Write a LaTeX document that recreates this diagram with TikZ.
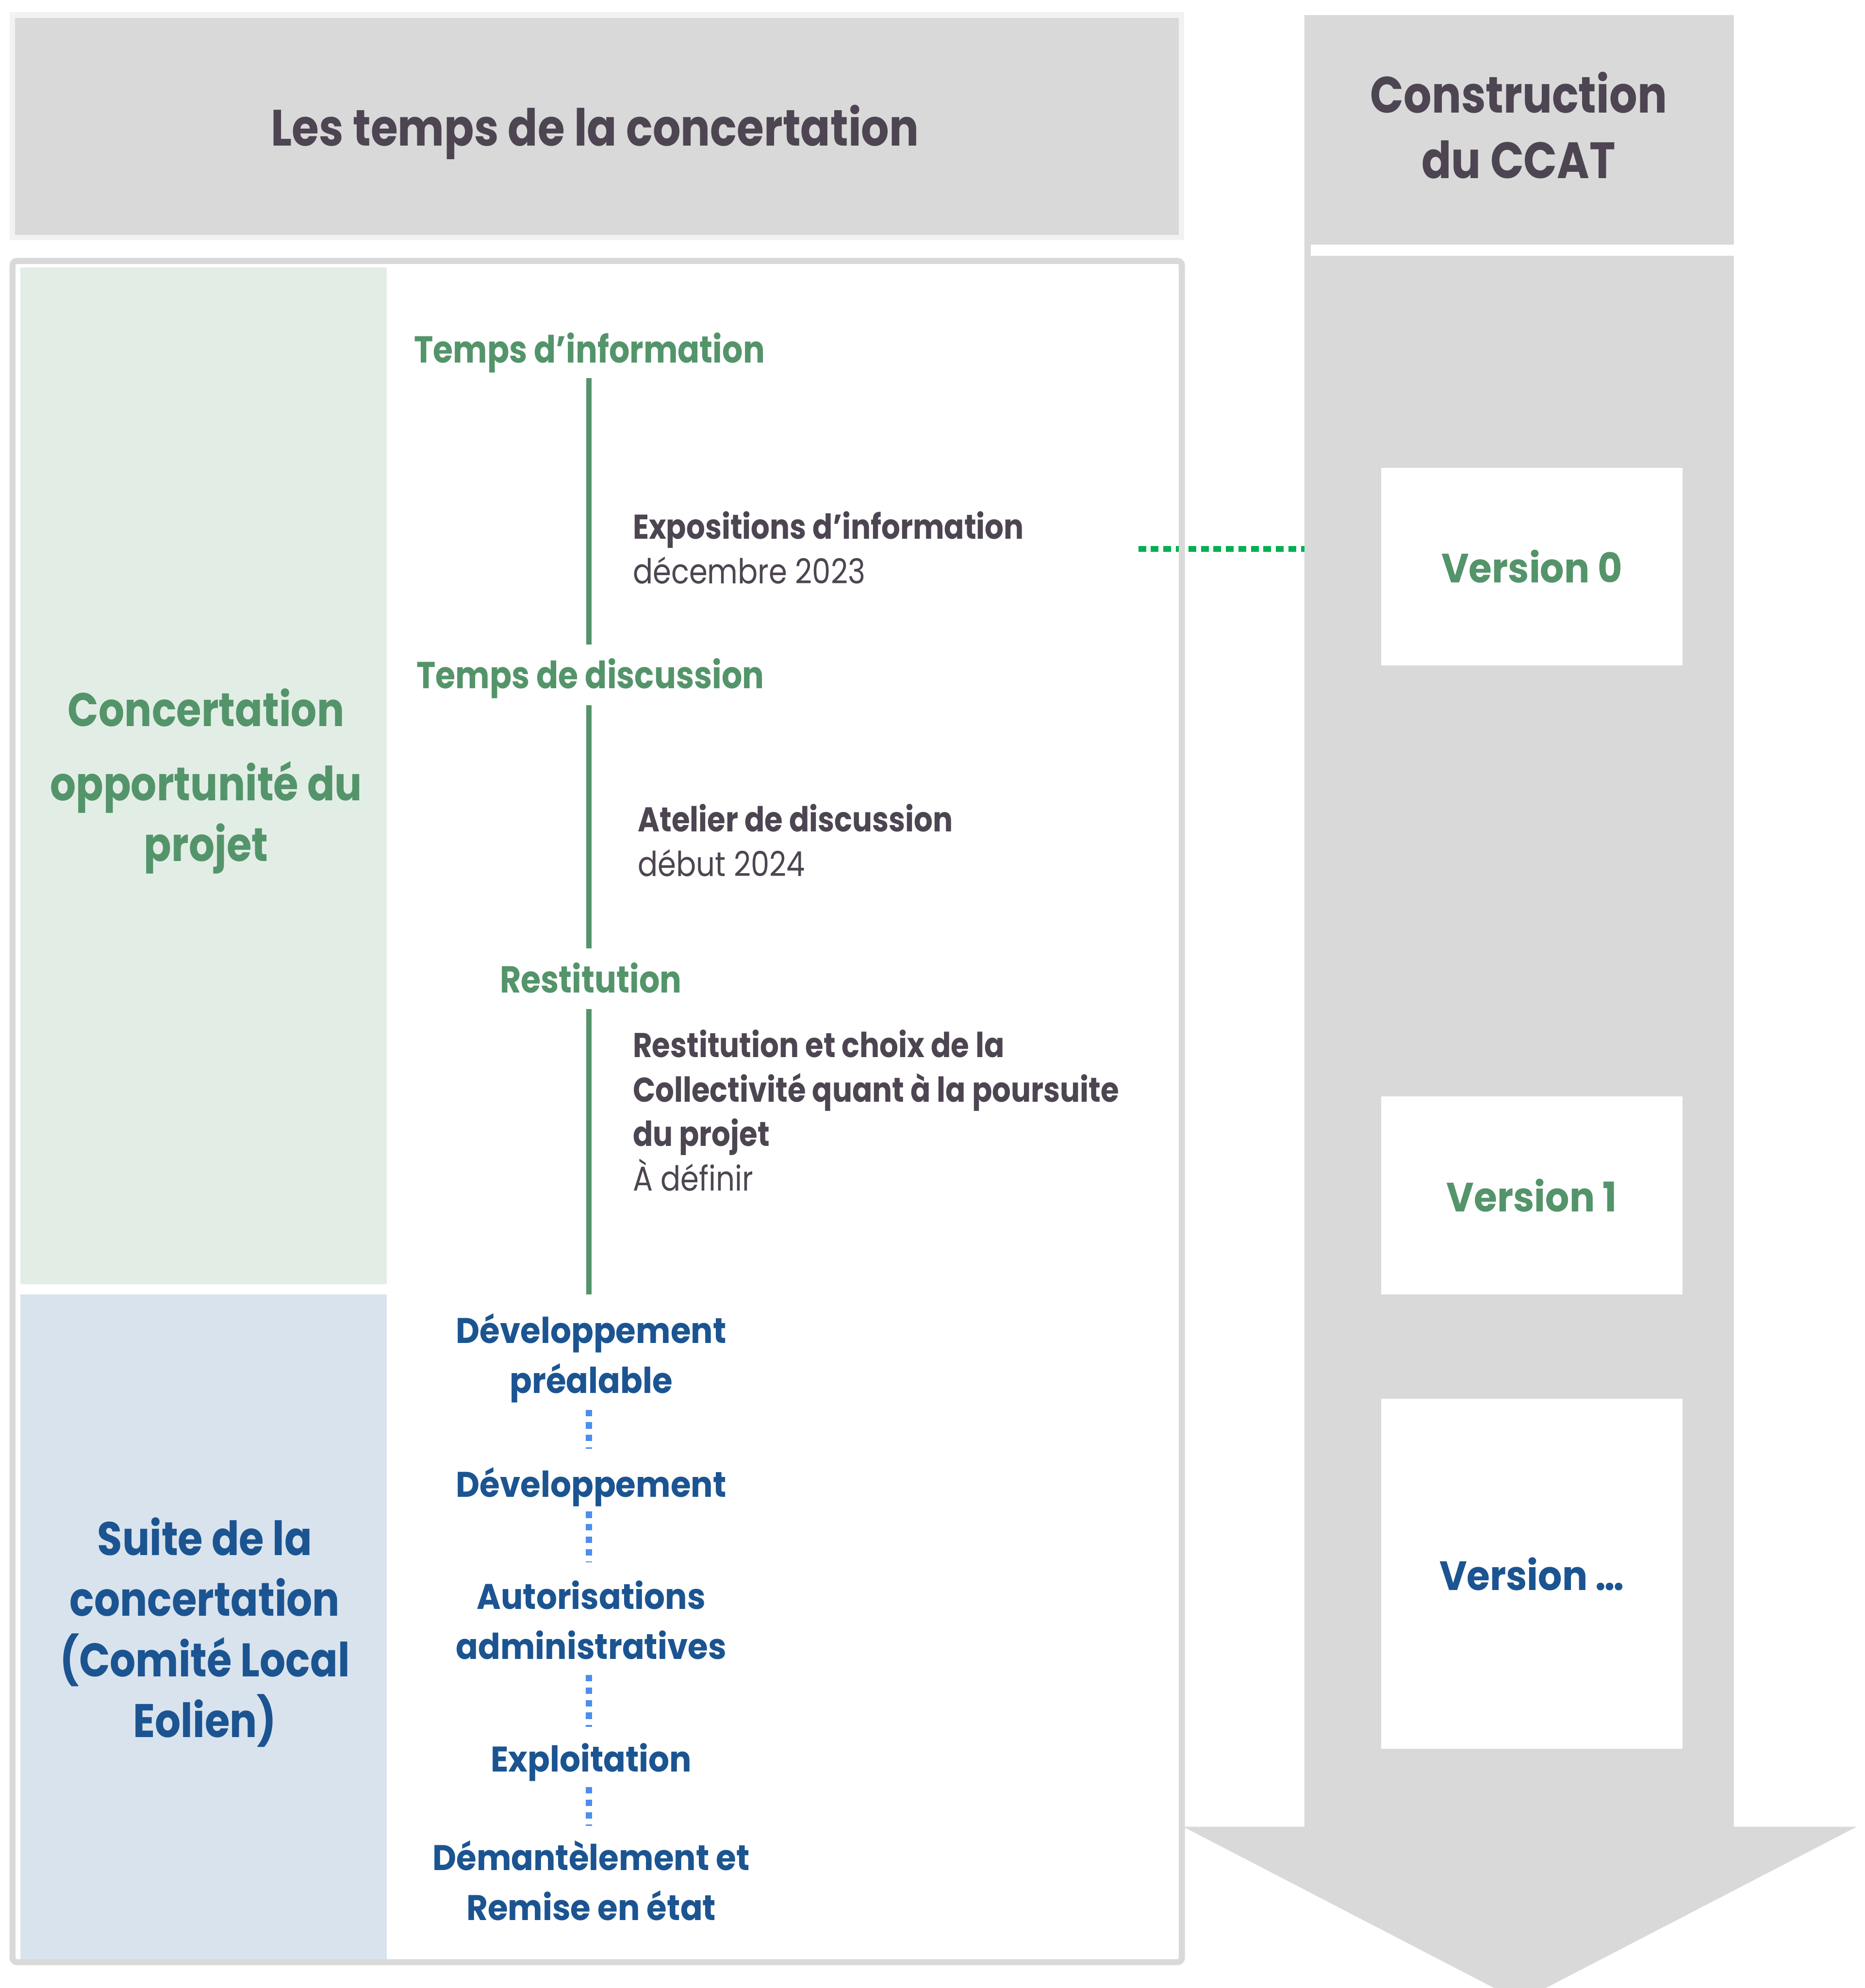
\documentclass[tikz,border=0pt]{standalone}
\usepackage{fontspec}
\setmainfont{Poppins}
\newfontfamily\futfont{Poppins}[FakeStretch=0.86]
\newfontfamily\gothfont{Poppins}[FakeStretch=0.92]
\usetikzlibrary{positioning}
\definecolor{boxgray}{HTML}{D9D9D9}
\definecolor{headline}{HTML}{F2F2F2}
\definecolor{panelgreen}{HTML}{E2EEE5}
\definecolor{panelblue}{HTML}{D9E3ED}
\definecolor{paneledge}{HTML}{B8C4D0}
\definecolor{inkgreen}{RGB}{84,148,106}
\definecolor{inkblue}{RGB}{27,84,145}
\definecolor{inkdark}{RGB}{77,69,81}
\definecolor{dotblue}{RGB}{76,141,238}
\definecolor{dotgreen}{HTML}{00B050}

\begin{document}
\begin{tikzpicture}[x=1cm, y=-1cm,
  headtxt/.style={inner sep=0pt, anchor=base, align=center, text=inkdark,
  font=\futfont\bfseries\fontsize{33.7}{43.5}\selectfont},
  phase/.style={inner sep=0pt, anchor=base, text=inkgreen,
  font=\futfont\bfseries\fontsize{24.8}{30}\selectfont},
  event/.style={inner sep=0pt, anchor=base west, align=left, text=inkdark,
  font=\futfont\fontsize{22.7}{29.3}\selectfont},
  sidetxt/.style={inner sep=0pt, anchor=base, align=center,
  font=\futfont\bfseries\fontsize{31.1}{40.1}\selectfont},
  stage/.style={inner sep=0pt, anchor=base, align=center, text=inkblue,
  font=\gothfont\bfseries\fontsize{23.5}{33}\selectfont},
  verbox/.style={fill=white, inner sep=0pt, minimum width=6.99cm,
  font=\gothfont\bfseries\fontsize{27}{27}\selectfont},
  gline/.style={draw=inkgreen, line width=0.13cm},
  bdots/.style={draw=dotblue, line width=0.14cm, dash pattern=on 0.15cm off 0.14cm},
  gdots/.style={draw=dotgreen, line width=0.14cm, dash pattern=on 0.18cm off 0.11cm}
]
\useasboundingbox (0,0) rectangle (43.25,46.10);
\clip (0,0) rectangle (43.25,46.10);

% big grey arrow of the CCAT
\fill[boxgray] (30.25,0.35) -- (40.21,0.35) -- (40.21,42.36) -- (43.06,42.36)
  -- (35.25,46.41) -- (27.44,42.36) -- (30.25,42.36) -- cycle;
\fill[white] (30.40,5.67) rectangle (40.21,5.93);
\coordinate (shaft) at (30.25,0);
\node[headtxt] (ccat) at (35.22,4.14) {Construction\\du CCAT};

% header
\draw[draw=headline, fill=boxgray, line width=0.13cm] (0.285,0.35) rectangle (27.40,5.51);
\node[headtxt] (title) at (13.80,3.38) {Les temps de la concertation};

% frame and side panels
\fill[white] (0.29,6.05) rectangle (27.41,45.50);
\fill[panelgreen] (0.47,6.20) rectangle (8.97,29.78);
\fill[panelblue] (0.47,30.02) rectangle (8.97,45.43);
\fill[paneledge] (0.47,45.43) rectangle (8.97,45.50);
\coordinate (dotstart) at (26.40,12.73);
\draw[gdots] (dotstart) -- (dotstart -| shaft);
\draw[draw=boxgray, line width=0.14cm, rounded corners=0.1cm] (0.29,6.05) rectangle (27.41,45.50);

\node[sidetxt, text=inkgreen] (sgreen) at (4.78,19.97) {Concertation\\[0.31cm]opportunité du\\projet};
\node[sidetxt, text=inkblue] (sblue) at (4.75,40.29) {Suite de la\\concertation\\(Comité Local\\Eolien)};

% versions
\node[verbox, minimum height=4.58cm, text=inkgreen] (v0) at (35.525,13.14) {Version 0};
\node[verbox, minimum height=4.59cm, text=inkgreen] (v1) at (35.525,27.725) {Version 1};
\node[verbox, minimum height=8.11cm, text=inkblue] (vn) at (35.525,36.495) {Version …};

% concertation steps
\coordinate (axis) at (13.66,0);
\node[phase] (tinfo) at (13.67,8.41) {Temps d’information};
\node[phase] (tdisc) at (13.69,15.97) {Temps de discussion};
\node[phase] (tresti) at (13.70,23.02) {Restitution};
\node[event] (expo) at (14.67,13.53) {{\bfseries Expositions d’information}\\décembre 2023};
\node[event] (atel) at (14.79,20.32) {{\bfseries Atelier de discussion}\\début 2024};
\node[event] (choix) at (14.67,27.61) {{\bfseries Restitution et choix de la}\\{\bfseries Collectivité quant à la poursuite}\\{\bfseries du projet}\\À définir};

\draw[gline] ([yshift=-0.36cm]tinfo.base -| axis) -- ([yshift=1.02cm]tdisc.base -| axis);
\draw[gline] ([yshift=-0.38cm]tdisc.base -| axis) -- ([yshift=1.03cm]tresti.base -| axis);

% following stages
\node[stage] (dpre) at (13.71,32.31) {Développement\\préalable};
\node[stage] (dev) at (13.71,34.72) {Développement};
\node[stage] (auto) at (13.71,38.47) {Autorisations\\administratives};
\node[stage] (expl) at (13.71,41.09) {Exploitation};
\node[stage] (dem) at (13.71,44.53) {Démantèlement et\\Remise en état};

\draw[gline] ([yshift=-0.38cm]tresti.base -| axis) -- ([yshift=2.29cm]dpre.base -| axis);
\draw[bdots] ([yshift=-0.38cm]dpre.base -| axis) -- ([yshift=1.13cm]dev.base -| axis);
\draw[bdots] ([yshift=-0.33cm]dev.base -| axis) -- ([yshift=2.24cm]auto.base -| axis);
\draw[bdots] ([yshift=-0.37cm]auto.base -| axis) -- ([yshift=1.05cm]expl.base -| axis);
\draw[bdots] ([yshift=-0.35cm]expl.base -| axis) -- ([yshift=2.19cm]dem.base -| axis);
\end{tikzpicture}
\end{document}
